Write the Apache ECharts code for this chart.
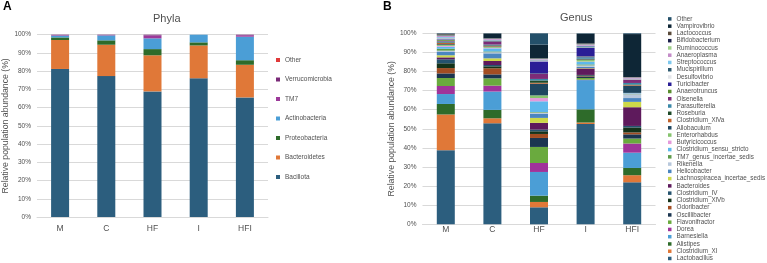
<!DOCTYPE html>
<html>
<head>
<meta charset="utf-8">
<script src="https://cdn.jsdelivr.net/npm/echarts@6/dist/echarts.min.js"></script>
<style>
  html, body { margin: 0; padding: 0; background: #fff; }
  #chart { width: 767px; height: 263px; }
</style>
</head>
<body>
<div id="chart"></div>
<script>
// groups on the x axis (same for both panels)
const groups = ['M', 'C', 'HF', 'I', 'HFI'];

// ---- Panel A: phyla (% per group), stacked bottom -> top
const bacillota       = [81.2, 77.3, 68.9, 76.1, 65.6];
const bacteroidetes   = [15.9, 17.2, 19.8, 18.0, 17.9];
const proteobacteria  = [1.4, 2.4, 3.4, 1.7, 2.5];
const actinobacteria  = [1.0, 2.7, 5.9, 4.2, 12.9];
const tm7             = [0.3, 0.2, 1.6, 0.0, 0.8];
const verrucomicrobia = [0.2, 0.2, 0.4, 0.0, 0.3];
const phylaOther      = [0, 0, 0, 0, 0];

const phylaNames  = ['Bacillota', 'Bacteroidetes', 'Proteobacteria', 'Actinobacteria', 'TM7', 'Verrucomicrobia', 'Other'];
const phylaValues = [bacillota, bacteroidetes, proteobacteria, actinobacteria, tm7, verrucomicrobia, phylaOther];

// ---- Panel B: genus (% per group), stacked bottom -> top
const lactobacillus    = [38.8, 52.9, 8.9, 52.5, 22.0];
const clostridiumXI    = [18.7, 2.6, 2.8, 0.8, 3.7];
const alistipes        = [5.5, 4.4, 3.3, 6.9, 3.8];
const barnesiella      = [5.2, 9.6, 12.4, 15.3, 8.0];
const dorea            = [4.2, 3.1, 4.7, 0.2, 4.8];
const flavonifractor   = [4.2, 3.8, 8.4, 0.9, 2.6];
const oscillibacter    = [2.4, 2.1, 4.7, 0.8, 2.2];
const odoribacter      = [2.8, 3.2, 2.1, 0.2, 1.0];
const clostridiumXlVb  = [2.5, 1.0, 1.4, 0.4, 2.6];
const clostridiumIV    = [2.1, 0.7, 0.9, 0.2, 0.8];
const bacteroides      = [1.0, 2.1, 3.5, 3.4, 9.8];
const lachnospiracea   = [1.1, 1.4, 2.6, 0.2, 2.8];
const helicobacter     = [1.7, 2.6, 2.1, 0.6, 2.0];
const rikenella        = [0.7, 0.6, 0.7, 0.8, 2.0];
const tm7Genus         = [1.0, 0.4, 0.3, 0.5, 0.2];
const clostridiumSS    = [1.0, 1.6, 5.6, 1.3, 0.3];
const butyricicoccus   = [0.5, 0.3, 1.7, 0.2, 0.1];
const enterorhabdus    = [0.5, 0.4, 1.4, 0.8, 0.1];
const allobaculum      = [0.4, 0.3, 6.1, 0.3, 3.8];
const clostridiumXlVa  = [0.6, 0.3, 0.5, 0.1, 0.3];
const roseburia        = [0.3, 0.3, 1.2, 0.3, 0.3];
const parasutterella   = [0.5, 0.4, 0.8, 0.8, 0.8];
const olsenella        = [0.4, 1.5, 2.6, 0.2, 1.7];
const anaerotruncus    = [0.5, 0.2, 0.2, 0.2, 0.1];
const turicibacter     = [0.3, 0.2, 6.4, 4.4, 0.1];
const desulfovibrio    = [0.5, 0.2, 0.5, 0.3, 0.2];
const mucispirillum    = [0.3, 0.2, 0.2, 0.6, 0.1];
const streptococcus    = [0.4, 0.2, 0.2, 0.3, 0.1];
const anaeroplasma     = [0.5, 0.5, 0.3, 0.6, 0.5];
const ruminococcus     = [0.3, 0.1, 0.2, 0.2, 0.1];
const bifidobacterium  = [0.3, 0.1, 0.1, 0.2, 0.1];
const lactococcus      = [0.3, 0.1, 0.1, 0.2, 0.1];
const vampirovibrio    = [0.3, 2.5, 7.2, 5.1, 22.5];
const genusOther       = [0.2, 0.1, 5.9, 0.2, 0.4];

const genusNames = [
  'Lactobacillus', 'Clostridium_XI', 'Alistipes', 'Barnesiella', 'Dorea', 'Flavonifractor',
  'Oscillibacter', 'Odoribacter', 'Clostridium_XlVb', 'Clostridium_IV', 'Bacteroides',
  'Lachnospiracea_incertae_sedis', 'Helicobacter', 'Rikenella', 'TM7_genus_incertae_sedis',
  'Clostridium_sensu_stricto', 'Butyricicoccus', 'Enterorhabdus', 'Allobaculum', 'Clostridium_XlVa',
  'Roseburia', 'Parasutterella', 'Olsenella', 'Anaerotruncus', 'Turicibacter', 'Desulfovibrio',
  'Mucispirillum', 'Streptococcus', 'Anaeroplasma', 'Ruminococcus', 'Bifidobacterium',
  'Lactococcus', 'Vampirovibrio', 'Other'
];
const genusValues = [
  lactobacillus, clostridiumXI, alistipes, barnesiella, dorea, flavonifractor,
  oscillibacter, odoribacter, clostridiumXlVb, clostridiumIV, bacteroides,
  lachnospiracea, helicobacter, rikenella, tm7Genus,
  clostridiumSS, butyricicoccus, enterorhabdus, allobaculum, clostridiumXlVa,
  roseburia, parasutterella, olsenella, anaerotruncus, turicibacter, desulfovibrio,
  mucispirillum, streptococcus, anaeroplasma, ruminococcus, bifidobacterium,
  lactococcus, vampirovibrio, genusOther
];

// colours (same order as the names above)
const phylaColors = ['#2c5e7e', '#e07838', '#2e6b2a', '#4b9ed6', '#9c3a9a', '#7a2a78', '#e03a3a'];
const genusColors = [
  '#2c5e7e', '#e07838', '#2e6b2a', '#4b9ed6', '#a0339a', '#6aaa3e',
  '#1b3550', '#a24d22', '#14331a', '#25536e', '#5e1a5c',
  '#cdd84a', '#4b86c0', '#b8c8dc', '#5e9b4a',
  '#5db8ec', '#e49adb', '#86c46e', '#1e4660', '#c0622a',
  '#1e4a28', '#3a88a8', '#7c2c78', '#5a8e2e', '#2a1e96', '#e4e6ea',
  '#2f5a70', '#7ec8ee', '#c48bc8', '#9fd08a', '#1a1f4a',
  '#5a4a3a', '#0e2636', '#24506a'
];

const FONT = '"Liberation Sans", Arial, sans-serif';
const GREY = '#505050';

const chart = echarts.init(document.getElementById('chart'));

function xAxisFor(gridIndex, margin) {
  return {
    type: 'category', gridIndex: gridIndex, data: groups,
    axisTick: { show: false },
    axisLine: { lineStyle: { color: '#d9d9d9' } },
    axisLabel: { color: GREY, fontSize: 8.5, fontFamily: FONT, margin: margin }
  };
}
function yAxisFor(gridIndex, nameGap) {
  return {
    type: 'value', gridIndex: gridIndex, min: 0, max: 100, interval: 10,
    name: 'Relative population abundance (%)', nameLocation: 'middle', nameGap: nameGap,
    nameTextStyle: { color: GREY, fontSize: 8.7, fontFamily: FONT },
    axisLabel: { formatter: '{value}%', color: GREY, fontSize: 6.5, fontFamily: FONT, margin: 6 },
    axisLine: { show: false }, axisTick: { show: false },
    splitLine: { lineStyle: { color: '#d9d9d9', width: 1 } }
  };
}

const series = [];
phylaNames.forEach((n, i) => series.push({
  name: n, type: 'bar', stack: 'phyla', xAxisIndex: 0, yAxisIndex: 0,
  barWidth: 18, data: phylaValues[i], itemStyle: { color: phylaColors[i] }
}));
genusNames.forEach((n, i) => series.push({
  name: n, type: 'bar', stack: 'genus', xAxisIndex: 1, yAxisIndex: 1,
  barWidth: 18, data: genusValues[i], itemStyle: { color: genusColors[i] }
}));

chart.setOption({
  animation: false,
  backgroundColor: '#fff',
  title: [
    { text: 'A', left: 3, top: 1, padding: 0, textStyle: { fontSize: 12, fontWeight: 'bold', color: '#000', fontFamily: FONT } },
    { text: 'Phyla', left: 153, top: 13, padding: 0, textStyle: { fontSize: 11, fontWeight: 'normal', color: GREY, fontFamily: FONT } },
    { text: 'B', left: 383, top: 1, padding: 0, textStyle: { fontSize: 12, fontWeight: 'bold', color: '#000', fontFamily: FONT } },
    { text: 'Genus', left: 560, top: 12, padding: 0, textStyle: { fontSize: 11, fontWeight: 'normal', color: GREY, fontFamily: FONT } }
  ],
  legend: [
    {
      orient: 'vertical', left: 276, top: 56, padding: 0,
      itemWidth: 4, itemHeight: 4, itemGap: 11.5,
      textStyle: { color: GREY, fontSize: 6.5, lineHeight: 8, fontFamily: FONT },
      selectedMode: false,
      data: phylaNames.map((n, i) => ({ name: n, icon: 'rect', itemStyle: { color: phylaColors[i] } })).reverse()
    },
    {
      orient: 'vertical', left: 668, top: 15.4, padding: 0,
      itemWidth: 3.5, itemHeight: 3.5, itemGap: 0.26,
      textStyle: { color: GREY, fontSize: 6.3, lineHeight: 7, fontFamily: FONT },
      selectedMode: false,
      data: genusNames.map((n, i) => ({ name: n, icon: 'rect', itemStyle: { color: genusColors[i] } })).reverse()
    }
  ],
  grid: [
    { left: 37, right: 499, top: 34.7, bottom: 46 },
    { left: 422.5, right: 111.5, top: 33.3, bottom: 38.7 }
  ],
  xAxis: [xAxisFor(0, 7.5), xAxisFor(1, 1)],
  yAxis: [yAxisFor(0, 27), yAxisFor(1, 26.5)],
  series: series
});
</script>
</body>
</html>
